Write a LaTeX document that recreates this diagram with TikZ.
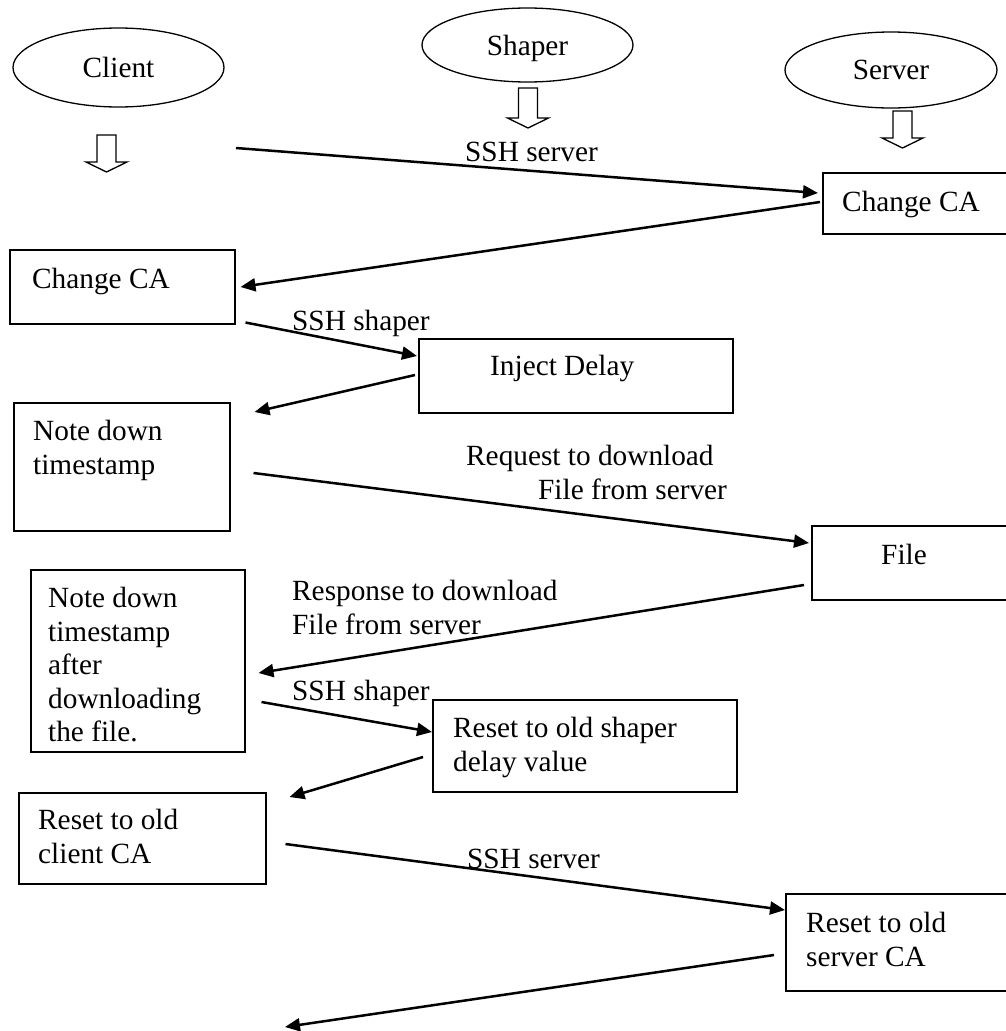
\documentclass[tikz,border=0pt]{standalone}
\usepackage{fontspec}
\setmainfont{Liberation Serif}
\usetikzlibrary{shapes.geometric, arrows.meta}

\tikzset{
	actor/.style={ellipse, draw, line width=1.3pt, text depth=0pt},
	stepbox/.style={rectangle, draw, line width=1.5pt, anchor=north west, inner sep=0pt},
	steptext/.style={anchor=north west, inner sep=0pt, align=left},
	msg/.style={line width=2.5pt, -{Triangle[length=15pt,width=13pt]}},
	hollow/.style={draw, line width=1.3pt, line join=miter},
}
\newcommand{\hollowdown}[2]{%
	\draw[hollow] (#1) ++(-9.5,0) -- ++(0,#2) -- ++(-11,0) -- ++(20.5,10)
	-- ++(20.5,-10) -- ++(-11,0) -- ++(0,-#2) -- cycle;}

\begin{document}
\begin{tikzpicture}[x=1pt, y=-1pt,
	every node/.style={font=\fontsize{29.3}{33.5}\selectfont}]
	\useasboundingbox (0,0) rectangle (1005,1031);

	\node[actor, minimum width=211pt, minimum height=79pt] (client) at (118.5,67.5) {Client};
	\node[actor, minimum width=211pt, minimum height=74pt] (shaper) at (527.5,45) {Shaper};
	\node[actor, minimum width=212pt, minimum height=76pt] (server) at (891,70) {Server};

	\coordinate (clientDown) at (106.5,135);
	\coordinate (shaperDown) at (528,88);
	\coordinate (serverDown) at (902.5,111);
	\hollowdown{clientDown}{27}
	\hollowdown{shaperDown}{30}
	\hollowdown{serverDown}{27}

	\node[stepbox, minimum width=193pt, minimum height=61pt] (srvCA) at (822,172) {};
	\node[stepbox, minimum width=225pt, minimum height=74pt] (cliCA) at (9,249) {};
	\node[stepbox, minimum width=314pt, minimum height=74pt] (inject) at (418,338) {};
	\node[stepbox, minimum width=216pt, minimum height=128pt] (note1) at (13,402) {};
	\node[stepbox, minimum width=204pt, minimum height=74pt] (file) at (811,525) {};
	\node[stepbox, minimum width=214pt, minimum height=182pt] (note2) at (30,569) {};
	\node[stepbox, minimum width=304pt, minimum height=92pt] (rstShp) at (432,699) {};
	\node[stepbox, minimum width=247pt, minimum height=91pt] (rstCli) at (18,792) {};
	\node[stepbox, minimum width=230pt, minimum height=97pt] (rstSrv) at (785,893) {};

	\node[steptext] (srvCAtxt) at (842,191) {Change CA};
	\node[steptext] (cliCAtxt) at (32,268) {Change CA};
	\node[steptext] (injecttxt) at (490,355) {Inject Delay};
	\node[steptext] (note1txt) at (33,420) {Note down\\timestamp};
	\node[steptext] (filetxt) at (881,544) {File};
	\node[steptext] (note2txt) at (48,587) {Note down\\timestamp\\after\\downloading\\the file.};
	\node[steptext] (rstShptxt) at (453,717) {Reset to old shaper\\delay value};
	\node[steptext] (rstClitxt) at (38,809) {Reset to old\\client CA};
	\node[steptext] (rstSrvtxt) at (806,912) {Reset to old\\server CA};

	\node[steptext] (sshSrv1) at (465,142) {SSH server};
	\node[steptext] (sshShp1) at (292,310) {SSH shaper};
	\node[steptext] (request) at (466,445) {Request to download\\\hspace*{72pt}File from server};
	\node[steptext] (response) at (292,580) {Response to download\\File from server};
	\node[steptext] (sshShp2) at (292,680) {SSH shaper};
	\node[steptext] (sshSrv2) at (467,849) {SSH server};

	\coordinate (start1) at (236,148);
	\coordinate (end10) at (285,1027);

	\draw[msg] (start1) -- ([shift={(-4,21)}]srvCA.north west);
	\draw[msg] ([shift={(-2,30)}]srvCA.north west) -- ([shift={(5,38)}]cliCA.north east);
	\draw[msg] ([shift={(10,-2)}]cliCA.south east) -- ([shift={(-1,18)}]inject.north west);
	\draw[msg] ([shift={(-3,37)}]inject.north west) -- ([shift={(24,10)}]note1.north east);
	\draw[msg] ([shift={(23,71)}]note1.north east) -- ([shift={(-2,18)}]file.north west);
	\draw[msg] ([shift={(-7,60)}]file.north west) -- ([shift={(13,104)}]note2.north east);
	\draw[msg] ([shift={(16,133)}]note2.north east) -- ([shift={(0,33)}]rstShp.north west);
	\draw[msg] ([shift={(-9,58)}]rstShp.north west) -- ([shift={(23,5)}]rstCli.north east);
	\draw[msg] ([shift={(19,52)}]rstCli.north east) -- ([shift={(0,17)}]rstSrv.north west);
	\draw[msg] ([shift={(-11,62)}]rstSrv.north west) -- (end10);
\end{tikzpicture}
\end{document}
